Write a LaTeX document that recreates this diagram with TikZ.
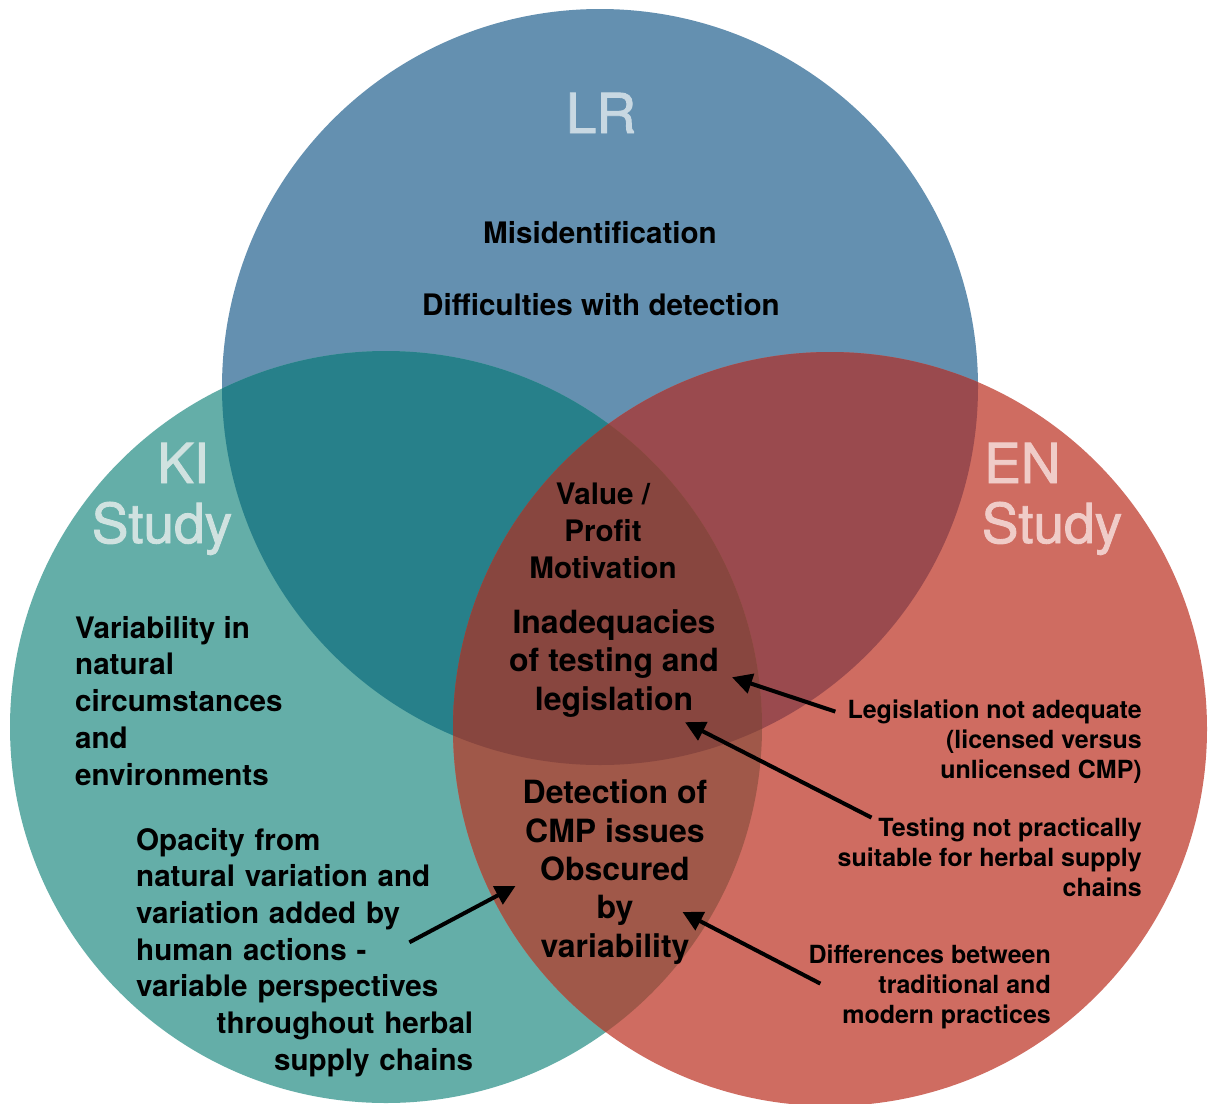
\documentclass[tikz,border=0pt]{standalone}
\usepackage{fontspec}
\setmainfont{TeX Gyre Heros}
\newfontfamily\labelfont[BoldFont=TeX Gyre Heros, BoldFeatures={FakeBold=1.6}]{TeX Gyre Heros}
\usepackage{tikz}
\usetikzlibrary{arrows.meta}
\definecolor{lrblue}{HTML}{6490B0}
\definecolor{kiteal}{HTML}{64AEA8}
\definecolor{enred}{HTML}{CF6C61}
\definecolor{lrki}{HTML}{27808A}
\definecolor{lren}{HTML}{9A4A4E}
\definecolor{kien}{HTML}{A05849}
\definecolor{allthree}{HTML}{88463F}
\definecolor{lrtext}{HTML}{C8D8E2}
\definecolor{kitext}{HTML}{D0E2E0}
\definecolor{entext}{HTML}{F0CCC8}
\tikzstyle{title}=[font=\labelfont\bfseries\fontsize{55}{60}\selectfont, inner sep=0pt]
\tikzstyle{body}=[font=\bfseries\fontsize{29.6}{36.7}\selectfont, inner sep=0pt]
\tikzstyle{core}=[font=\bfseries\fontsize{32}{38.3}\selectfont, inner sep=0pt, align=center]
\tikzstyle{note}=[font=\bfseries\fontsize{25}{29.8}\selectfont, inner sep=0pt, align=right]
\tikzstyle{pointer}=[draw=black, line width=4pt, -{Triangle[length=20pt,width=20pt]}]

\begin{document}
\begin{tikzpicture}[x=1pt, y=-1pt]
	\useasboundingbox (0,0) rectangle (1210,1103);
	\fill[white] (0,0) rectangle (1210,1103);
	\begin{scope}
		\coordinate (lrc) at (600,387);
		\coordinate (kic) at (386,727);
		\coordinate (enc) at (830,729);
		\fill[lrblue] (lrc) circle[radius=378pt];
		\fill[kiteal] (kic) circle[radius=376pt];
		\fill[enred] (enc) circle[radius=377pt];
		\begin{scope}
			\clip (lrc) circle[radius=378pt];
			\fill[lrki] (kic) circle[radius=376pt];
			\fill[lren] (enc) circle[radius=377pt];
		\end{scope}
		\begin{scope}
			\clip (kic) circle[radius=376pt];
			\fill[kien] (enc) circle[radius=377pt];
			\clip (lrc) circle[radius=378pt];
			\fill[allthree] (enc) circle[radius=377pt];
		\end{scope}
	\end{scope}
	% multi-line nodes sit on the baseline of their last line
	\begin{scope}
		\node[title, text=lrtext, anchor=base] (lr) at (601,133) {LR};
		\node[title, text=kitext, anchor=base west] (ki) at (157,483) {KI};
		\node[title, text=kitext, anchor=base] (kistudy) at (162,543) {Study};
		\node[title, text=entext, anchor=base west] (en) at (984,483) {EN};
		\node[title, text=entext, anchor=base] (enstudy) at (1052,543) {Study};
		\node[body, anchor=base] (misid) at (600,243) {Misidentification};
		\node[body, anchor=base] (detect) at (601,315) {Difficulties with detection};
		\node[body, align=left, anchor=base west] (varia) at (75,785) {Variability in\\natural\\circumstances\\and\\environments};
		\node[body, align=center, anchor=base] (value) at (603,578) {Value /\\Profit\\Motivation};
		\node[core, anchor=base] (inad) at (614,710) {Inadequacies\\of testing and\\legislation};
		\node[core, anchor=base] (obsc) at (615,957) {Detection of\\CMP issues\\Obscured\\by\\variability};
		\node[body, text width=337pt, align=left, anchor=base west] (opac) at (136,850) {Opacity from\\natural variation and\\variation added by\\human actions -\\variable perspectives\\\hspace*{\fill}throughout herbal\\\hspace*{\fill}supply chains};
		\node[note, anchor=base east] (legal) at (1142,778) {Legislation not adequate\\(licensed versus\\unlicensed CMP)};
		\node[note, anchor=base east] (testing) at (1142,896) {Testing not practically\\suitable for herbal supply\\chains};
		\node[note, anchor=base east] (differ) at (1051,1023) {Differences between\\traditional and\\modern practices};
	\end{scope}
	\begin{scope}
		\draw[pointer] ([xshift=-12pt,yshift=-12pt]legal.north west) -- ([xshift=13pt,yshift=-14pt]inad.east);
		\draw[pointer] ([xshift=34pt]testing.north west) -- ([xshift=-34pt,yshift=-5pt]inad.south east);
		\draw[pointer] ([xshift=-64pt,yshift=10pt]opac.east) -- ([xshift=-7pt,yshift=-14pt]obsc.west);
		\draw[pointer] ([xshift=12pt,yshift=3pt]differ.west) -- ([xshift=-25pt,yshift=-40pt]obsc.east);
	\end{scope}
\end{tikzpicture}
\end{document}
